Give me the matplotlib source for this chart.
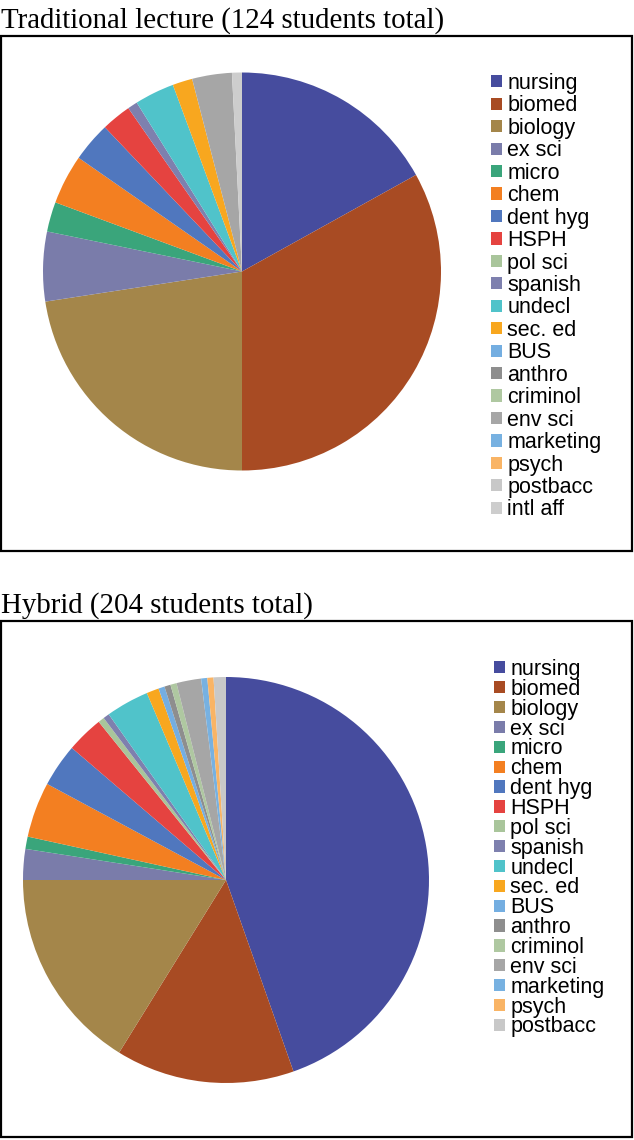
import matplotlib
matplotlib.use("Agg")
import matplotlib.pyplot as plt
from matplotlib.patches import Rectangle

W, H = 634, 1140
DPI = 100

majors_trad = ["nursing", "biomed", "biology", "ex sci", "micro", "chem", "dent hyg",
               "HSPH", "pol sci", "spanish", "undecl", "sec. ed", "BUS", "anthro",
               "criminol", "env sci", "marketing", "psych", "postbacc", "intl aff"]
counts_trad = [21, 41, 28, 7, 3, 5, 4, 3, 0, 1, 4, 2, 0, 0, 0, 4, 0, 0, 0, 1]

majors_hyb = ["nursing", "biomed", "biology", "ex sci", "micro", "chem", "dent hyg",
              "HSPH", "pol sci", "spanish", "undecl", "sec. ed", "BUS", "anthro",
              "criminol", "env sci", "marketing", "psych", "postbacc"]
counts_hyb = [91, 29, 33, 5, 2, 9, 7, 6, 1, 1, 7, 2, 1, 1, 1, 4, 1, 1, 2]

palette = {
    "nursing": "#464C9E", "biomed": "#A84B23", "biology": "#A4864A", "ex sci": "#7A7CAA",
    "micro": "#3AA57B", "chem": "#F37F21", "dent hyg": "#5077BE", "HSPH": "#E54340",
    "pol sci": "#A9C59B", "spanish": "#7E80AE", "undecl": "#50C3CA", "sec. ed": "#F8A71F",
    "BUS": "#74AEE1", "anthro": "#8E8E8E", "criminol": "#AFC8A1", "env sci": "#A6A6A6",
    "marketing": "#77B1E1", "psych": "#F9B465", "postbacc": "#C8C8C8", "intl aff": "#CDCDCD",
}

fig = plt.figure(figsize=(W / DPI, H / DPI), dpi=DPI)


def fx(x):
    return x / W


def fy(y):
    return 1 - y / H


def box(x0, y0, x1, y1):
    fig.patches.append(Rectangle((fx(x0), fy(y1)), fx(x1) - fx(x0), fy(y0) - fy(y1),
                                 transform=fig.transFigure, fill=False,
                                 edgecolor="black", linewidth=1.6))


def panel(title, ty, box_px, center, r, labels, values, leg_xy, fs, lspace):
    fig.text(fx(1), fy(ty), title, family="Liberation Serif", fontsize=20.8,
             ha="left", va="baseline", color="black")
    box(*box_px)
    cx, cy = center
    ax = fig.add_axes([fx(cx - r), fy(cy + r), fx(2 * r), (2 * r) / H])
    wedges, _ = ax.pie(values, colors=[palette[l] for l in labels], startangle=90,
                       counterclock=False, radius=1.0,
                       wedgeprops=dict(linewidth=0))
    ax.set_xlim(-1, 1)
    ax.set_ylim(-1, 1)
    ax.set_aspect("equal")
    ax.axis("off")
    fig.legend(wedges, labels, loc="upper left",
               bbox_to_anchor=(fx(leg_xy[0]), fy(leg_xy[1])),
               frameon=False, borderpad=0, borderaxespad=0,
               handlelength=0.5, handleheight=0.5, handletextpad=0.25,
               labelspacing=lspace,
               prop=dict(family="Liberation Sans", size=fs))


panel("Traditional lecture (124 students total)", 28, (1, 36, 632, 551),
      (242, 271.5), 199, majors_trad, counts_trad, (491, 73), 15.5, 0.067)
panel("Hybrid (204 students total)", 613, (1, 621, 632, 1137),
      (226, 880), 203, majors_hyb, counts_hyb, (494, 659), 15.5, -0.053)

fig.savefig("out.png", dpi=DPI)
